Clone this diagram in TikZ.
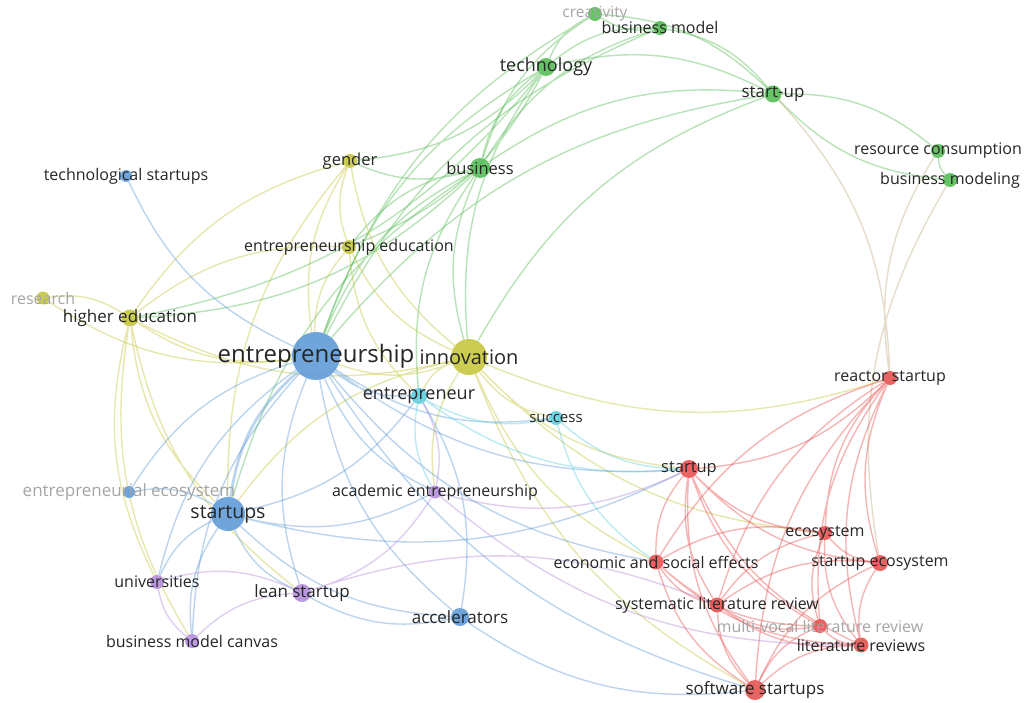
\documentclass[tikz,border=0pt]{standalone}
\usepackage{fontspec}
\setmainfont{Open Sans}
\usetikzlibrary{backgrounds}

\definecolor{vblue}{RGB}{88,150,215}
\definecolor{vgreen}{RGB}{76,185,76}
\definecolor{vyellow}{RGB}{196,196,52}
\definecolor{vcyan}{RGB}{86,204,222}
\definecolor{vred}{RGB}{230,72,72}
\definecolor{vpurple}{RGB}{176,134,218}
\definecolor{vtan}{RGB}{190,170,120}
\definecolor{ink}{RGB}{38,38,38}
\definecolor{fade}{RGB}{165,165,165}

\begin{document}
\begin{tikzpicture}[x=1pt,y=1pt,
  kw/.style={circle, inner sep=0pt, fill=#1, fill opacity=0.85},
  lbl/.style={text=ink, inner sep=0pt, font=\fontsize{#1}{#1}\selectfont},
  lbl/.default=16,
  dim/.style={text=fade, inner sep=0pt, font=\fontsize{#1}{#1}\selectfont},
  dim/.default=16,
  lnk/.style={draw=#1, line width=1.4pt, draw opacity=0.4, bend right=20}]
\useasboundingbox (0,0) rectangle (1024,-703);

% green cluster
\node[kw=vgreen, minimum size=14pt] (crea) at (595,-14) {};
\node[kw=vgreen, minimum size=14pt] (bmod) at (660,-28) {};
\node[kw=vgreen, minimum size=18pt] (tech) at (546,-67) {};
\node[kw=vgreen, minimum size=17pt] (stup) at (773,-94) {};
\node[kw=vgreen, minimum size=14pt] (resc) at (938,-151) {};
\node[kw=vgreen, minimum size=14pt] (bmdl) at (950,-180) {};
\node[kw=vgreen, minimum size=20pt] (busi) at (480,-168) {};
% yellow cluster
\node[kw=vyellow, minimum size=14pt] (gend) at (350,-161) {};
\node[kw=vyellow, minimum size=14pt] (eedu) at (349,-247) {};
\node[kw=vyellow, minimum size=13pt] (rsch) at (43,-298) {};
\node[kw=vyellow, minimum size=17pt] (hied) at (130,-318) {};
\node[kw=vyellow, minimum size=36pt] (inno) at (469,-357) {};
% blue cluster
\node[kw=vblue, minimum size=12pt] (tstu) at (126,-176) {};
\node[kw=vblue, minimum size=48pt] (entr) at (316,-356) {};
\node[kw=vblue, minimum size=12pt] (eeco) at (129,-492) {};
\node[kw=vblue, minimum size=34pt] (sups) at (228,-514) {};
\node[kw=vblue, minimum size=18pt] (accl) at (460,-617) {};
% cyan cluster
\node[kw=vcyan, minimum size=16pt] (enr) at (419,-396) {};
\node[kw=vcyan, minimum size=14pt] (succ) at (556,-418) {};
% purple cluster
\node[kw=vpurple, minimum size=13pt] (acad) at (435,-492) {};
\node[kw=vpurple, minimum size=14pt] (univ) at (157,-582) {};
\node[kw=vpurple, minimum size=18pt] (lean) at (302,-593) {};
\node[kw=vpurple, minimum size=14pt] (bmc) at (192,-641) {};
% red cluster
\node[kw=vred, minimum size=14pt] (reac) at (890,-378) {};
\node[kw=vred, minimum size=18pt] (sup) at (689,-469) {};
\node[kw=vred, minimum size=14pt] (ecoy) at (825,-533) {};
\node[kw=vred, minimum size=15pt] (econ) at (656,-562) {};
\node[kw=vred, minimum size=16pt] (seco) at (880,-563) {};
\node[kw=vred, minimum size=15pt] (slr) at (717,-605) {};
\node[kw=vred, minimum size=14pt] (mvlr) at (820,-626) {};
\node[kw=vred, minimum size=15pt] (litr) at (861,-645) {};
\node[kw=vred, minimum size=20pt] (soft) at (755,-690) {};

% labels
\node[dim=15.5] (crea-l) at (crea) {creativity};
\node[lbl] (bmod-l) at (bmod) {business model};
\node[lbl=18] (tech-l) at (tech) {technology};
\node[lbl=17] (stup-l) at (stup) {start-up};
\node[lbl] (resc-l) at (resc) {resource consumption};
\node[lbl] (bmdl-l) at (bmdl) {business modeling};
\node[lbl=16.5] (busi-l) at (busi) {business};
\node[lbl=16.5] (gend-l) at (gend) {gender};
\node[lbl] (eedu-l) at (eedu) {entrepreneurship education};
\node[dim] (rsch-l) at (rsch) {research};
\node[lbl=17] (hied-l) at (hied) {higher education};
\node[lbl=20] (inno-l) at (inno) {innovation};
\node[lbl] (tstu-l) at (tstu) {technological startups};
\node[lbl=24] (entr-l) at (entr) {entrepreneurship};
\node[dim=17] (eeco-l) at (eeco) {entrepreneurial ecosystem};
\node[lbl=19.5] (sups-l) at (sups) {startups};
\node[lbl=17] (accl-l) at (accl) {accelerators};
\node[lbl=18] (enr-l) at (enr) {entrepreneur};
\node[lbl=15] (succ-l) at (succ) {success};
\node[lbl] (acad-l) at (acad) {academic entrepreneurship};
\node[lbl] (univ-l) at (univ) {universities};
\node[lbl=17] (lean-l) at (lean) {lean startup};
\node[lbl] (bmc-l) at (bmc) {business model canvas};
\node[lbl] (reac-l) at (reac) {reactor startup};
\node[lbl=16.5] (sup-l) at (sup) {startup};
\node[lbl] (ecoy-l) at (ecoy) {ecosystem};
\node[lbl] (econ-l) at (econ) {economic and social effects};
\node[lbl] (seco-l) at (seco) {startup ecosystem};
\node[lbl] (slr-l) at (slr) {systematic literature review};
\node[dim] (mvlr-l) at (mvlr) {multi-vocal literature review};
\node[lbl] (litr-l) at (litr) {literature reviews};
\node[lbl=17] (soft-l) at (soft) {software startups};

\begin{scope}[on background layer]
\fill[white] (0,0) rectangle (1024,-703);
% green links
\draw[lnk=vgreen] (crea) to (tech) (crea) to (bmod) (stup) to (crea) (crea) to (busi) (crea) to (entr);
\draw[lnk=vgreen] (bmod) to (tech) (stup) to (bmod) (bmod) to (busi) (bmod) to (entr);
\draw[lnk=vgreen] (stup) to (tech) (tech) to (busi) (tech) to (entr) (tech) to (inno) (gend) to (tech) (hied) to (tech) (eedu) to (tech);
\draw[lnk=vgreen] (stup) to (busi) (resc) to (stup) (stup) to (bmdl) (stup) to (inno) (stup) to (entr) (resc) to (bmdl);
\draw[lnk=vgreen] (busi) to (entr) (busi) to (inno) (gend) to (busi) (busi) to (eedu) (hied) to (busi) (busi) to (sups) (busi) to (enr);
\draw[lnk=vtan] (reac) to (stup) (resc) to (reac) (bmdl) to (seco);
% yellow links
\draw[lnk=vyellow] (gend) to (entr) (gend) to (hied) (gend) to (inno) (gend) to (eedu) (gend) to (sups);
\draw[lnk=vyellow] (eedu) to (entr) (eedu) to (inno) (eedu) to (hied) (eedu) to (enr);
\draw[lnk=vyellow] (hied) to (rsch) (rsch) to (entr);
\draw[lnk=vyellow] (hied) to (entr) (hied) to (inno) (hied) to (sups) (hied) to (univ) (hied) to (lean) (hied) to (bmc);
\draw[lnk=vyellow] (entr) to (inno) (inno) to (sup) (inno) to (sups) (inno) to (succ) (inno) to (econ) (inno) to (ecoy) (inno) to (soft) (inno) to (enr) (inno) to (acad) (inno) to (reac);
% blue links
\draw[lnk=vblue] (tstu) to (entr) (entr) to (eeco) (entr) to (accl) (entr) to (lean) (entr) to (acad) (entr) to (enr) (entr) to (succ) (entr) to (sup) (entr) to (univ) (entr) to (bmc) (entr) to (soft) (entr) to (econ);
\draw[lnk=vblue, line width=2.8pt] (entr) to (sups);
\draw[lnk=vblue] (sups) to (lean) (sups) to (univ) (lean) to (accl) (sups) to (bmc) (sups) to (enr) (sups) to (acad) (sups) to (eeco) (sups) to (sup) (sups) to (accl);
\draw[lnk=vblue] (accl) to (enr) (accl) to (soft);
% cyan links
\draw[lnk=vcyan] (enr) to (succ) (enr) to (sup) (enr) to (acad) (succ) to (sup) (succ) to (econ);
% purple links
\draw[lnk=vpurple] (lean) to (univ) (lean) to (bmc) (lean) to (acad) (slr) to (lean) (univ) to (bmc) (acad) to (sup) (acad) to (litr) (acad) to (enr);
% red links
\draw[lnk=vred] (sup) to (reac) (sup) to (ecoy) (sup) to (seco) (sup) to (econ) (sup) to (slr) (sup) to (soft) (sup) to (litr) (sup) to (mvlr);
\draw[lnk=vred] (reac) to (ecoy) (reac) to (seco) (reac) to (litr) (reac) to (mvlr) (reac) to (econ) (reac) to (soft) (reac) to (slr);
\draw[lnk=vred] (ecoy) to (seco) (ecoy) to (slr) (ecoy) to (econ) (ecoy) to (litr) (ecoy) to (mvlr);
\draw[lnk=vred] (econ) to (slr) (econ) to (soft) (econ) to (litr) (econ) to (mvlr);
\draw[lnk=vred] (slr) to (soft) (slr) to (mvlr) (slr) to (litr) (mvlr) to (litr) (mvlr) to (soft) (litr) to (soft);
\draw[lnk=vred] (seco) to (soft) (seco) to (litr) (seco) to (slr);
\end{scope}
\end{tikzpicture}
\end{document}
